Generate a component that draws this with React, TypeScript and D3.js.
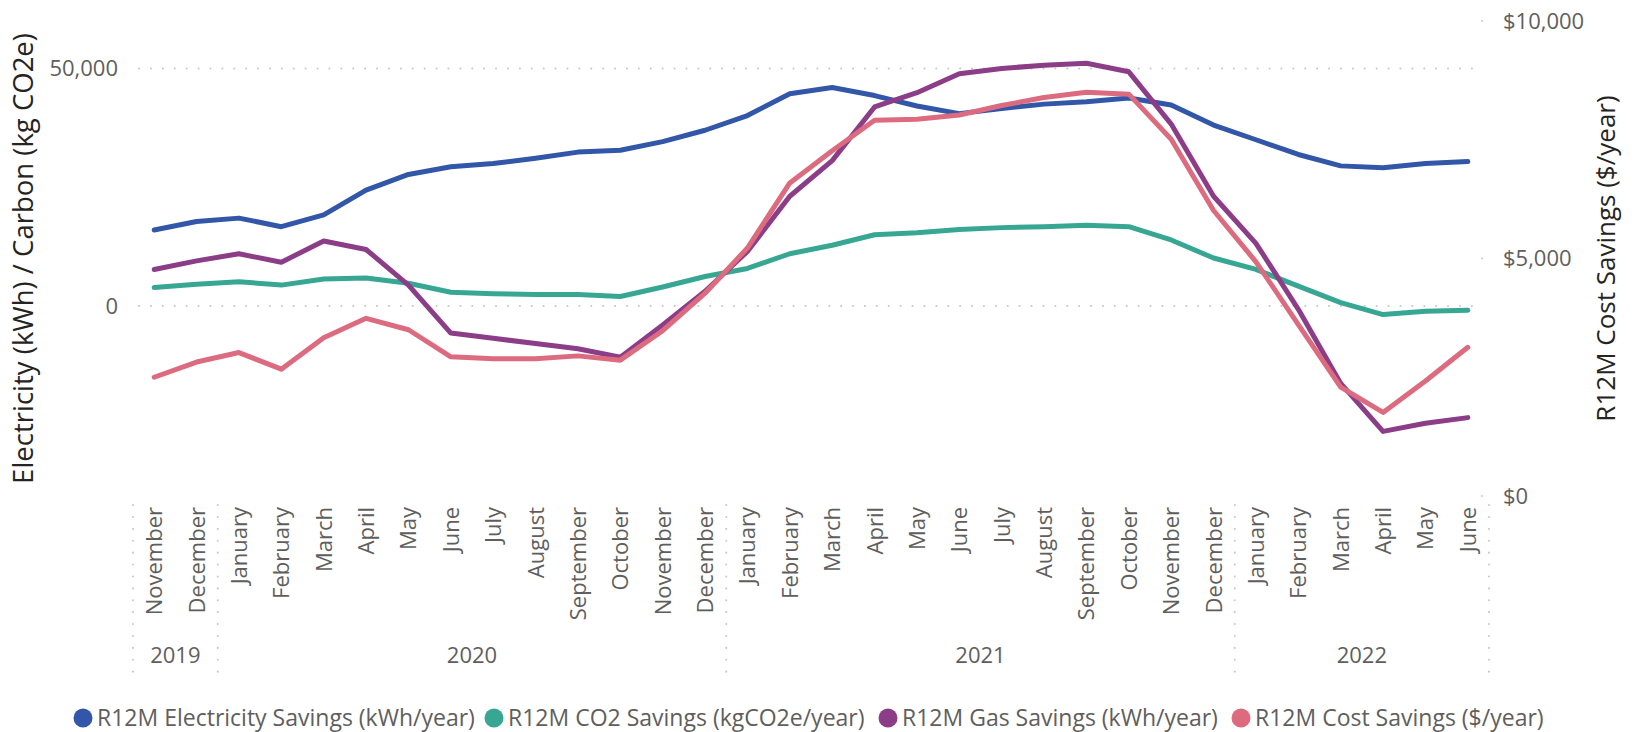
import React from "react";
import * as d3 from "d3";

const months = [
  "November", "December",
  "January", "February", "March", "April", "May", "June", "July", "August", "September", "October", "November", "December",
  "January", "February", "March", "April", "May", "June", "July", "August", "September", "October", "November", "December",
  "January", "February", "March", "April", "May", "June",
];
const years = ["2019", "2020", "2021", "2022"];
const yearOfMonth = [
  "2019", "2019",
  "2020", "2020", "2020", "2020", "2020", "2020", "2020", "2020", "2020", "2020", "2020", "2020",
  "2021", "2021", "2021", "2021", "2021", "2021", "2021", "2021", "2021", "2021", "2021", "2021",
  "2022", "2022", "2022", "2022", "2022", "2022",
];

const electricity = [16000, 17800, 18500, 16700, 19200, 24400, 27700, 29300, 30000, 31100, 32400, 32800, 34600, 37000, 40100, 44700, 46000, 44300, 42100, 40500, 41600, 42500, 43000, 43800, 42300, 38100, 35000, 31900, 29500, 29100, 30000, 30400];
const co2 = [3900, 4600, 5100, 4400, 5700, 5900, 4800, 2900, 2600, 2400, 2400, 2000, 4000, 6200, 7900, 11000, 12800, 15000, 15400, 16100, 16500, 16700, 17000, 16700, 13900, 10100, 7700, 4200, 700, -1800, -1100, -900];
const gas = [7700, 9500, 11000, 9200, 13700, 11900, 4400, -5700, -6800, -7900, -9000, -10800, -4000, 3100, 11500, 23100, 30600, 41900, 44900, 48900, 50000, 50700, 51100, 49300, 38300, 23100, 13200, -700, -16300, -26400, -24700, -23500];
const cost = [2500, 2820, 3020, 2670, 3330, 3740, 3500, 2930, 2890, 2890, 2950, 2860, 3480, 4270, 5220, 6590, 7270, 7910, 7930, 8020, 8220, 8390, 8500, 8460, 7510, 6010, 4930, 3610, 2290, 1760, 2420, 3130];

const leftTicks = [0, 50000];
const rightTicks = [0, 5000, 10000];

const seriesNames = [
  "R12M Electricity Savings (kWh/year)",
  "R12M CO2 Savings (kgCO2e/year)",
  "R12M Gas Savings (kWh/year)",
  "R12M Cost Savings ($/year)",
];
const colors = ["#3257A8", "#37A794", "#8B3D88", "#DD6B7F"];

const W = 1638;
const H = 732;
const FONT = "'Segoe UI', 'Open Sans', sans-serif";
const GRAY = "#605E5C";
const DARK = "#252423";

export default function App() {
  const idx = months.map((_, i) => i);
  const x = d3.scaleBand<number>().domain(idx).range([133, 1489]);
  const cx = (i: number) => (x(i) as number) + x.bandwidth() / 2;
  const yL = d3.scaleLinear().domain([-40000, 60000]).range([496, 21]);
  const yR = d3.scaleLinear().domain([0, 10000]).range([496, 21]);

  const lineL = d3.line<number>().x((_, i) => cx(i)).y((d) => yL(d));
  const lineR = d3.line<number>().x((_, i) => cx(i)).y((d) => yR(d));

  const series = [
    { vals: electricity, gen: lineL },
    { vals: co2, gen: lineL },
    { vals: gas, gen: lineL },
    { vals: cost, gen: lineR },
  ];

  // year groups
  const groups = years.map((yr) => {
    const first = yearOfMonth.indexOf(yr);
    const last = yearOfMonth.lastIndexOf(yr);
    return { yr, x0: x(first) as number, x1: (x(last) as number) + x.bandwidth() };
  });
  const seps = [groups[0].x0, ...groups.map((g) => g.x1)];

  const legendX = [83, 494, 888, 1241];

  return (
    <svg width={W} height={H} style={{ position: "absolute", left: 0, top: 0, background: "#fff" }} fontFamily={FONT}>
      {/* gridlines */}
      {leftTicks.map((t) => (
        <g key={t}>
          <line x1={139} x2={1482} y1={yL(t)} y2={yL(t)} stroke="#C8C8C8" strokeWidth={2} strokeDasharray="0.1 11.8" strokeLinecap="round" />
          <text x={118} y={yL(t)} dy="0.35em" textAnchor="end" fontSize={22} fill={GRAY}>{d3.format(",")(t)}</text>
        </g>
      ))}
      {rightTicks.map((t) => (
        <g key={t}>
          <circle cx={1482} cy={yR(t)} r={1} fill="#C8C8C8" />
          <text x={1503} y={yR(t)} dy="0.35em" textAnchor="start" fontSize={22} fill={GRAY}>{"$" + d3.format(",")(t)}</text>
        </g>
      ))}

      {/* axis titles */}
      <text transform={`translate(33,${(21 + 496) / 2}) rotate(-90)`} textAnchor="middle" fontSize={27.5} fill={DARK}>
        Electricity (kWh) / Carbon (kg CO2e)
      </text>
      <text transform={`translate(1615,${(21 + 496) / 2}) rotate(-90)`} textAnchor="middle" fontSize={26} fill={DARK}>
        R12M Cost Savings ($/year)
      </text>

      {/* month labels */}
      {months.map((m, i) => (
        <text key={i} transform={`translate(${cx(i) + 8},507) rotate(-90)`} textAnchor="end" fontSize={22} fill={GRAY}>
          {m}
        </text>
      ))}
      {/* year separators & labels */}
      {seps.map((s, i) => (
        <line key={i} x1={s} x2={s} y1={505} y2={674} stroke="#C8C8C8" strokeWidth={2} strokeDasharray="0.1 11.8" strokeLinecap="round" />
      ))}
      {groups.map((g) => (
        <text key={g.yr} x={(g.x0 + g.x1) / 2} y={655} dy="0.35em" textAnchor="middle" fontSize={22} fill={GRAY}>
          {g.yr}
        </text>
      ))}

      {/* lines */}
      {series.map((s, i) => (
        <path key={i} d={s.gen(s.vals) || ""} fill="none" stroke={colors[i]} strokeWidth={5} strokeLinejoin="round" strokeLinecap="round" />
      ))}

      {/* legend */}
      {seriesNames.map((n, i) => (
        <g key={n}>
          <circle cx={legendX[i]} cy={718} r={9.5} fill={colors[i]} />
          <text x={legendX[i] + 14} y={718} dy="0.35em" fontSize={23} fill={GRAY}>{n}</text>
        </g>
      ))}
    </svg>
  );
}
